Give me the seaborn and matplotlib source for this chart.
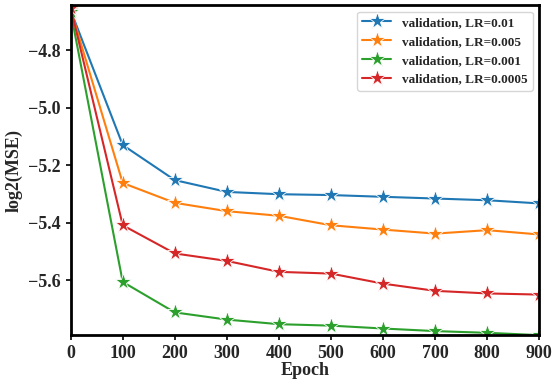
import numpy as np
import pandas as pd
import matplotlib
matplotlib.use('Agg')
import matplotlib.pyplot as plt
import seaborn as sns

epochs = [0, 100, 200, 300, 400, 500, 600, 700, 800, 900]
lr_001 = [-4.662, -5.130, -5.252, -5.293, -5.301, -5.304, -5.310, -5.316, -5.322, -5.333]
lr_0005 = [-4.658, -5.262, -5.331, -5.360, -5.376, -5.409, -5.424, -5.438, -5.426, -5.441]
lr_0001 = [-4.667, -5.606, -5.712, -5.737, -5.753, -5.758, -5.768, -5.777, -5.783, -5.791]
lr_00005 = [-4.652, -5.409, -5.507, -5.533, -5.571, -5.577, -5.612, -5.637, -5.646, -5.650]
labels = ['validation, LR=0.01', 'validation, LR=0.005',
          'validation, LR=0.001', 'validation, LR=0.0005']

sns.set_style('ticks')
plt.rcParams['font.family'] = ['Liberation Serif', 'DejaVu Serif']
plt.rcParams['font.weight'] = 'bold'

fig, ax = plt.subplots(figsize=(5.52, 3.83), dpi=100)
colors = sns.color_palette('tab10')
series = [lr_001, lr_0005, lr_0001, lr_00005]
for vals, lab, c in zip(series, labels, colors):
    df = pd.DataFrame({'Epoch': epochs, 'val': vals})
    sns.lineplot(data=df, x='Epoch', y='val', ax=ax, color=c, marker='*',
                 markersize=12.5, linewidth=1.5, markeredgewidth=0.6, label=lab)

allv = np.concatenate(series)
ax.set_xlim(0, 900)
ax.set_ylim(allv.min(), -4.643)
ax.set_yticks([-5.6, -5.4, -5.2, -5.0, -4.8])
ax.set_xticks(epochs)
ax.set_xlabel('Epoch', fontsize=13, fontweight='bold', labelpad=0)
ax.set_ylabel('log2(MSE)', fontsize=13, fontweight='bold')
ax.tick_params(labelsize=13, width=1.2, length=3.5, color='black')
for lbl in ax.get_xticklabels() + ax.get_yticklabels():
    lbl.set_fontweight('bold')
for s in ax.spines.values():
    s.set_visible(True)
    s.set_linewidth(2)
    s.set_color('black')
leg = ax.legend(loc='upper right', prop={'weight': 'bold', 'size': 9.5},
                handlelength=2.2, fancybox=True, framealpha=0.8)
leg.get_frame().set_edgecolor('0.8')
plt.subplots_adjust(left=0.128, right=0.977, top=0.987, bottom=0.125)
plt.savefig('out.png', dpi=100)
